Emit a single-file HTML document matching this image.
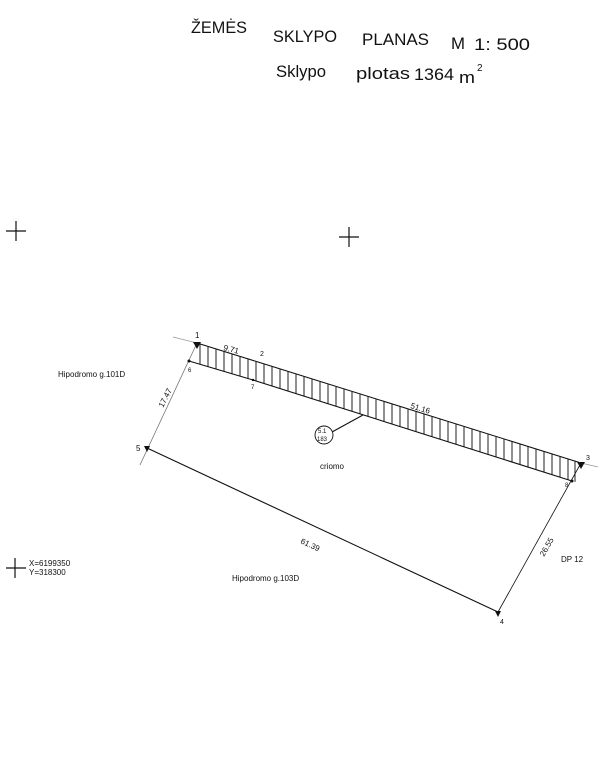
<!DOCTYPE html>
<html><head><meta charset="utf-8"><style>
html,body{margin:0;padding:0;background:#fff;width:604px;height:770px;overflow:hidden}
svg{display:block}
text{font-family:"Liberation Sans",sans-serif;fill:#111}
</style></head><body>
<svg width="604" height="770" viewBox="0 0 604 770" xmlns="http://www.w3.org/2000/svg">
<g font-size="17">
<text x="191" y="33" textLength="56" lengthAdjust="spacingAndGlyphs">ŽEMĖS</text>
<text x="273" y="42" textLength="64" lengthAdjust="spacingAndGlyphs">SKLYPO</text>
<text x="362" y="45" textLength="67" lengthAdjust="spacingAndGlyphs">PLANAS</text>
<text x="451" y="49" textLength="14" lengthAdjust="spacingAndGlyphs">M</text>
<text x="474" y="50" textLength="56" lengthAdjust="spacingAndGlyphs">1: 500</text>
<text x="276" y="77" textLength="50" lengthAdjust="spacingAndGlyphs">Sklypo</text>
<text x="356" y="79" textLength="54" lengthAdjust="spacingAndGlyphs">plotas</text>
<text x="414" y="80" textLength="40" lengthAdjust="spacingAndGlyphs">1364</text>
<text x="459" y="83" textLength="16" lengthAdjust="spacingAndGlyphs">m</text>
<text x="477" y="71" font-size="10">2</text>
</g>
<g stroke="#111" stroke-width="1.2">
<line x1="6" y1="231" x2="26" y2="231"/><line x1="16" y1="221" x2="16" y2="241"/>
<line x1="339" y1="237" x2="359" y2="237"/><line x1="349" y1="227" x2="349" y2="247"/>
<line x1="6" y1="568" x2="26" y2="568"/><line x1="15" y1="558" x2="15" y2="578"/>
</g>
<text x="29" y="566" font-size="8">X=6199350</text>
<text x="29" y="575" font-size="8">Y=318300</text>
<path stroke="#222" stroke-width="1" fill="none" d="M200 343.9V364.3M208 346.4V366.6M216 348.9V369M224 351.4V371.4M232 353.9V373.7M240 356.4V376.1M248 358.9V378.5M256 361.4V380.9M264 363.9V383.4M272 366.4V385.9M280 368.9V388.5M288 371.4V391.1M296 373.9V393.6M304 376.4V396.1M312 378.9V398.7M320 381.4V401.2M328 383.9V403.7M336 386.4V406.2M344 388.9V408.8M352 391.4V411.3M360 393.9V413.8M368 396.4V416.4M376 398.9V418.9M384 401.4V421.4M392 403.9V423.9M400 406.4V426.5M408 408.9V429M416 411.4V431.5M424 413.9V434.1M432 416.4V436.6M440 418.9V439.1M448 421.4V441.7M456 423.9V444.2M464 426.4V446.7M472 428.9V449.3M480 431.4V451.8M488 433.9V454.3M496 436.4V456.9M504 438.9V459.4M512 441.4V461.9M520 443.9V464.5M528 446.4V467M536 448.9V469.5M544 451.4V472.1M552 453.9V474.6M560 456.4V477.1M568 458.9V479.7M575 461.1V481.9"/>
<g stroke="#111" fill="none" stroke-width="1.1">
<polyline points="173,337 197,343 258,362 581,463 598,467" stroke="#999" stroke-width="0.8"/>
<polyline points="197,343 258,362 581,463" stroke-width="1"/>
<polyline points="189,361 253,380 572,481"/>
<line x1="197" y1="343" x2="140" y2="465" stroke="#777" stroke-width="0.8"/>
<line x1="147" y1="448" x2="498" y2="612"/>
<line x1="498" y1="612" x2="581" y2="463" stroke-width="0.8"/>
<line x1="363" y1="415" x2="332" y2="432"/>
<circle cx="324" cy="435" r="9" stroke-width="0.9"/>
</g>
<g fill="#111">
<path d="M193,342 L201,342 L197,349Z"/>
<path d="M577,462 L585,462 L581,469Z"/>
<path d="M144,446 L150,446 L147,452Z"/>
<path d="M495,611 L501,611 L498,617Z"/>
<circle cx="189" cy="361" r="1.5"/><circle cx="253" cy="380" r="1.2"/><circle cx="572" cy="481" r="1.5"/>
</g>
<g font-size="8">
<text x="195" y="338">1</text>
<text x="260" y="356" font-size="7" fill="#666">2</text>
<text x="586" y="460" font-size="7">3</text>
<text x="500" y="624" font-size="7">4</text>
<text x="136" y="451">5</text>
<text x="188" y="372" font-size="6">6</text>
<text x="251" y="389" font-size="6">7</text>
<text x="565" y="487" font-size="6">8</text>
<text x="223" y="350" transform="rotate(14 223 350)">9.71</text>
<text x="410" y="408" transform="rotate(17 410 408)">51.16</text>
<text x="163" y="408" transform="rotate(-63 163 408)">17.47</text>
<text x="300" y="543" transform="rotate(25 300 543)">61.39</text>
<text x="544" y="557" transform="rotate(-60 544 557)">26.55</text>
<text x="58" y="377" font-size="8">Hipodromo g.101D</text>
<text x="232" y="581" font-size="8">Hipodromo g.103D</text>
<text x="320" y="469" font-size="8">criomo</text>
<text x="561" y="562" font-size="8">DP 12</text>
<text x="318" y="433" font-size="6">5.1</text>
<text x="317" y="441" font-size="6">183</text>
</g>
</svg>
</body></html>
